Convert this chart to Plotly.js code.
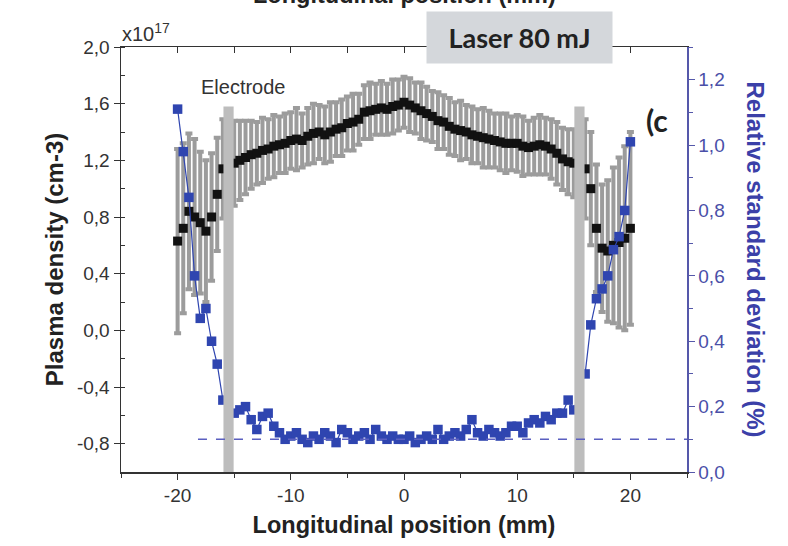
<!DOCTYPE html>
<html><head><meta charset="utf-8">
<script src="https://cdn.plot.ly/plotly-3.0.1.min.js"></script>
<style>body{margin:0;background:#fff}#chart{width:788px;height:546px}</style>
</head><body><div id="chart"></div>
<script>
// Longitudinal position (mm)
const position = [-20,-19.5,-19,-18.5,-18,-17.5,-17,-16.5,-16,
  -15,-14.5,-14,-13.5,-13,-12.5,-12,-11.5,-11,-10.5,-10,-9.5,-9,-8.5,-8,-7.5,-7,-6.5,-6,-5.5,-5,-4.5,-4,-3.5,-3,-2.5,-2,-1.5,-1,-0.5,
  0,0.5,1,1.5,2,2.5,3,3.5,4,4.5,5,5.5,6,6.5,7,7.5,8,8.5,9,9.5,10,10.5,11,11.5,12,12.5,13,13.5,14,14.5,15,
  16,16.5,17,17.5,18,18.5,19,19.5,20];
// Plasma density (x1e17 cm-3)
const density = [0.63,0.72,0.84,0.80,0.76,0.70,0.80,0.96,1.14,
  1.18,1.20,1.22,1.24,1.25,1.27,1.28,1.30,1.31,1.32,1.34,1.35,1.34,1.37,1.39,1.40,1.38,1.40,1.42,1.43,1.46,1.47,1.49,1.54,1.55,1.56,1.57,1.56,1.58,1.59,
  1.61,1.59,1.57,1.55,1.53,1.51,1.48,1.47,1.44,1.42,1.41,1.40,1.38,1.37,1.36,1.35,1.34,1.33,1.32,1.32,1.32,1.30,1.29,1.30,1.31,1.30,1.28,1.25,1.21,1.19,1.18,
  1.14,1.00,0.72,0.58,0.56,0.60,0.62,0.65,0.72];
// Error bars on density
const densityErr = [0.65,0.60,0.55,0.55,0.50,0.50,0.45,0.40,0.35,
  0.30,0.28,0.26,0.24,0.22,0.23,0.21,0.22,0.20,0.21,0.20,0.22,0.19,0.20,0.21,0.19,0.20,0.21,0.19,0.20,0.19,0.20,0.18,0.19,0.20,0.18,0.19,0.18,0.19,0.18,
  0.18,0.19,0.18,0.20,0.19,0.18,0.20,0.19,0.20,0.19,0.21,0.19,0.20,0.19,0.21,0.20,0.19,0.20,0.21,0.19,0.20,0.21,0.19,0.20,0.21,0.20,0.21,0.22,0.22,0.23,0.24,
  0.35,0.40,0.45,0.45,0.50,0.55,0.60,0.65,0.68];
// Relative standard deviation (%)
const rsd = [1.11,0.98,0.84,0.60,0.47,0.50,0.40,0.33,0.22,
  0.18,0.19,0.20,0.16,0.13,0.17,0.18,0.14,0.12,0.10,0.11,0.12,0.10,0.09,0.11,0.10,0.12,0.11,0.09,0.13,0.12,0.10,0.11,0.12,0.10,0.13,0.11,0.10,0.11,0.10,
  0.10,0.11,0.09,0.10,0.11,0.10,0.13,0.10,0.11,0.12,0.11,0.13,0.16,0.12,0.11,0.13,0.12,0.11,0.12,0.14,0.14,0.12,0.15,0.16,0.15,0.17,0.16,0.18,0.18,0.22,0.19,
  0.30,0.45,0.53,0.56,0.60,0.68,0.72,0.80,1.01];
const electrodePos = [-15.5, 15.5];
const electrodeTop = 1.58;
const rsdReference = 0.1;
// Tick labels (decimal comma, plain hyphen)
const xTickVals = [-20, -10, 0, 10, 20];
const xTickText = ['-20', '-10', '0', '10', '20'];
const yTickVals = [-0.8, -0.4, 0.0, 0.4, 0.8, 1.2, 1.6, 2.0];
const yTickText = ['-0,8', '-0,4', '0,0', '0,4', '0,8', '1,2', '1,6', '2,0'];

const blue = '#2f45b0';
const axisBlue = '#5558aa';
const font = 'Liberation Sans, Arial, sans-serif';

const traces = [
  {x: position, y: density, type: 'scatter', mode: 'markers', yaxis: 'y', xaxis: 'x',
   marker: {symbol: 'square', size: 9, color: '#111'},
   error_y: {type: 'data', array: densityErr, visible: true, color: '#9c9c9c', thickness: 4, width: 3.5},
   hoverinfo: 'skip', showlegend: false},
  {x: position, y: rsd, type: 'scatter', mode: 'lines+markers', yaxis: 'y2', xaxis: 'x',
   marker: {symbol: 'square', size: 9.5, color: blue},
   line: {color: blue, width: 1.2}, hoverinfo: 'skip', showlegend: false},
  {x: [-25, 25], y: [null, null], type: 'scatter', mode: 'markers', xaxis: 'x2', yaxis: 'y', showlegend: false, hoverinfo: 'skip'}
];

const shapes = electrodePos.map(p => ({type: 'rect', xref: 'x', yref: 'y', x0: p - 0.45, x1: p + 0.45, y0: -1.0, y1: electrodeTop,
  fillcolor: '#bdbdbd', line: {width: 0}, layer: 'above'}));
shapes.push({type: 'line', xref: 'x', yref: 'y2', x0: -18.2, x1: 25, y0: rsdReference, y1: rsdReference,
  line: {color: '#5a5fc0', width: 1.5, dash: 'dash'}});

const layout = {
  width: 788, height: 546,
  margin: {l: 121, r: 101, t: 47, b: 74},
  paper_bgcolor: '#fff', plot_bgcolor: '#fff',
  separators: ', ',
  font: {family: font, color: '#333'},
  showlegend: false,
  xaxis: {range: [-25, 25], tickmode: 'array', tickvals: xTickVals, ticktext: xTickText,
    ticks: 'outside', ticklen: 6, tickwidth: 1, tickcolor: '#333',
    minor: {dtick: 5, tick0: 0, ticks: 'outside', ticklen: 4, tickcolor: '#333'},
    showline: true, linecolor: '#333', linewidth: 1.5, zeroline: false, showgrid: false,
    tickfont: {size: 19, color: '#333'},
    title: {text: '<b>Longitudinal position (mm)</b>', font: {size: 23.5, color: '#222'}, standoff: 11}},
  xaxis2: {range: [-25, 25], overlaying: 'x', side: 'top', anchor: 'y', dtick: 5, ticks: 'inside', ticklen: 6, tickcolor: '#333',
    showticklabels: false, showline: true, linecolor: '#333', linewidth: 1.5, zeroline: false, showgrid: false},
  yaxis: {range: [-1.0, 2.0], tickmode: 'array', tickvals: yTickVals, ticktext: yTickText,
    ticks: 'outside', ticklen: 6, tickcolor: '#333',
    minor: {dtick: 0.2, tick0: 0, ticks: 'inside', ticklen: 4, tickcolor: '#333'},
    showline: true, linecolor: '#333', linewidth: 1.5, zeroline: false, showgrid: false,
    tickfont: {size: 19, color: '#333'},
    title: {text: '<b>Plasma density (cm-3)</b>', font: {size: 24, color: '#222'}, standoff: 6}},
  yaxis2: {range: [0, 1.3], dtick: 0.2, tick0: 0, tickformat: '.1f', overlaying: 'y', side: 'right', anchor: 'x',
    ticks: 'outside', ticklen: 6, tickcolor: axisBlue,
    minor: {dtick: 0.1, ticks: 'outside', ticklen: 4, tickcolor: axisBlue},
    showline: true, linecolor: axisBlue, linewidth: 1.5, zeroline: false, showgrid: false,
    tickfont: {size: 19, color: '#4a4fa8'}},
  shapes: shapes,
  annotations: [
    {text: '<b>Relative standard deviation (%)</b>', xref: 'paper', yref: 'paper', x: 1, y: 0.5,
     xanchor: 'center', yanchor: 'middle', xshift: 68, textangle: 90, showarrow: false,
     font: {size: 24, color: '#3b40a8', family: font}},
    {text: 'Electrode', xref: 'x', yref: 'y', x: -14.2, y: 1.72, showarrow: false,
     font: {size: 20, color: '#333', family: font}},
    {text: '<b>Laser 80 mJ</b>', xref: 'paper', yref: 'paper', x: 0.704, y: 1.0224, xanchor: 'center', yanchor: 'middle',
     showarrow: false, bgcolor: '#d4d7db', width: 183, height: 49, borderpad: 1,
     font: {size: 27, color: '#222', family: 'Lato, Open Sans, sans-serif'}},
    {text: '<b>(c</b>', xref: 'paper', yref: 'paper', x: 0.947, y: 0.875, xshift: 13, showarrow: false,
     font: {size: 30, color: '#222', family: 'Lato, Open Sans, sans-serif'}},
    {text: 'x10<sup>17</sup>', xref: 'paper', yref: 'paper', x: 0, y: 1, xanchor: 'left', yanchor: 'bottom',
     xshift: -1, yshift: 0, showarrow: false, font: {size: 20, color: '#333', family: font}},
    {text: '<b>Longitudinal position (mm)</b>', xref: 'paper', yref: 'paper', x: 0.5, y: 1, xanchor: 'center', yanchor: 'bottom',
     yshift: 37, showarrow: false, font: {size: 23.5, color: '#222', family: font}}
  ]
};

Plotly.newPlot('chart', traces, layout, {displayModeBar: false, staticPlot: true});
</script>
</body></html>
